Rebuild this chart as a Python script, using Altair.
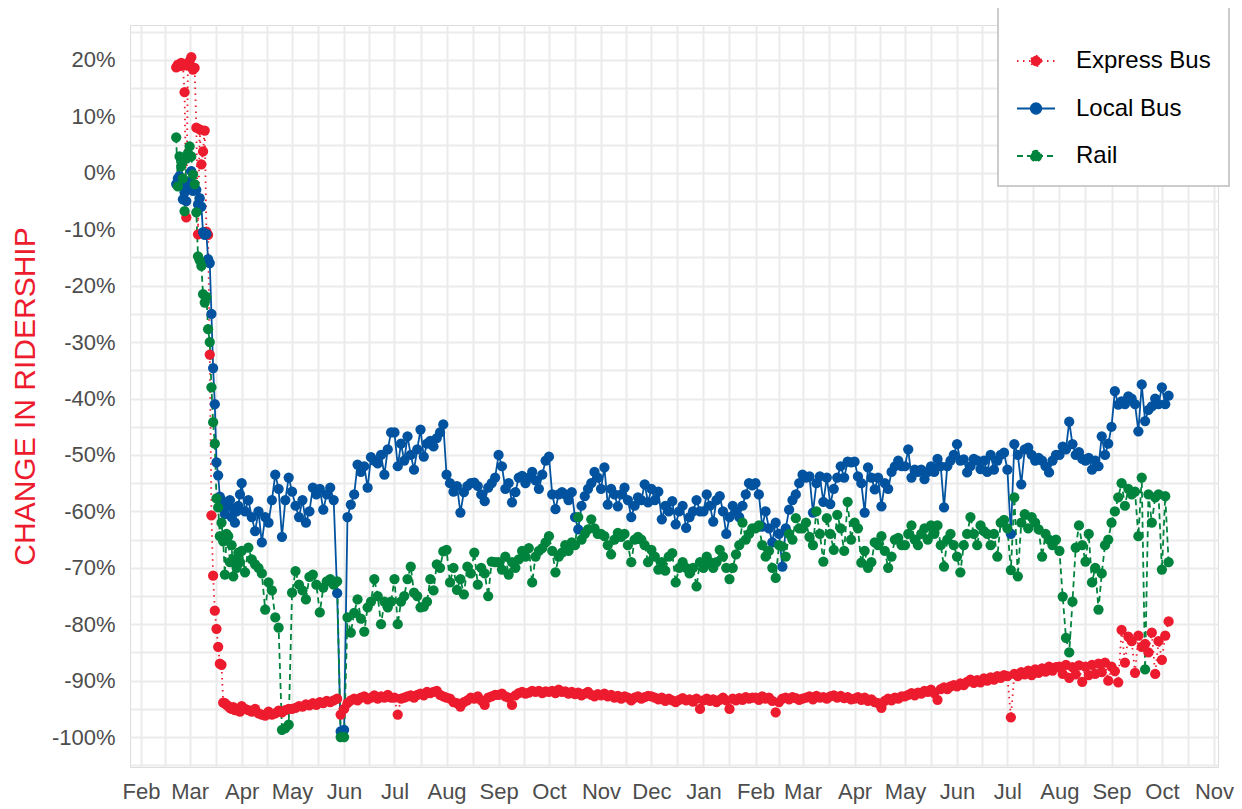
import altair as alt
import pandas as pd

SERIES = ["Express Bus", "Local Bus", "Rail"]
COLORS = ["#ED1B2E", "#0153A0", "#00843D"]
DASHES = [[1.5, 4.5], [1, 0], [6, 4]]

EARLY_START = "2020-02-22"      # daily values from this date
MONTH_FIRST = "2020-04-01"      # monthly blocks Apr 2020 .. Sep 2021
MONTH_LAST = "2021-09-01"
FINAL_START = "2021-10-01"      # every second day from this date

EXPRESS_EARLY = [18.7, 19.2, 18.9, 19.5, 19.0, 14.3, -7.9, 19.0, 19.8, 20.5, 18.3, 18.6, 8.0,
                 -10.9, 7.7, 1.5, 3.8, 7.5, -10.4, -11.0, -32.2, -60.7, -71.4, -77.6, -80.8,
                 -84.0, -87.0, -87.2, -93.9, -94.0, -94.3, -94.5, -94.8, -95.0, -94.7, -95.2,
                 -95.0, -95.3, -95.5]
EXPRESS_MONTHLY = [
    [-94.5, -95, -95.2, -95.5, -95, -95.8, -96, -96.2, -95.5, -96, -95.8, -95.3, -95.6, -95.2, -95],
    [-95, -94.8, -94.5, -94.6, -94.2, -94.4, -94, -94.3, -93.8, -94, -93.6, -93.8, -93.5, -93.2, -96],
    [-95, -94, -93.5, -93.2, -93.5, -93, -92.8, -93.3, -93, -92.6, -93.2, -92.8, -93, -92.5, -93],
    [-93, -96, -93.2, -93, -92.8, -92.6, -93, -92.5, -92.3, -92.6, -92, -92.2, -92, -91.8, -92.5, -92.8],
    [-93, -93.2, -93.8, -94, -94.6, -93.8, -93.5, -93, -93.2, -92.8, -93.5, -94.3, -93, -92.8, -92.5],
    [-92.5, -92.3, -92.8, -93, -94.3, -92.6, -92.2, -92, -92.3, -92.1, -91.8, -92, -91.8, -92.2, -91.9],
    [-92, -91.8, -92.2, -91.6, -92, -91.9, -92.3, -92, -92.4, -92.1, -92.6, -92.3, -92, -92.5, -92.8, -92.4],
    [-92.6, -92.3, -92.8, -92.5, -93, -92.7, -93.2, -92.8, -93, -93.5, -93, -92.8, -93.2, -92.9, -92.7],
    [-92.8, -93, -93.3, -93, -93.6, -93.2, -93.5, -93.8, -93.4, -93.1, -93.5, -93.3, -93.7, -93.2, -95],
    [-93.5, -93.2, -93.6, -93.3, -93.8, -93.4, -93, -93.5, -95, -93.2, -93.5, -93.1, -93.4, -92.9, -93.2, -93],
    [-93, -93.4, -92.8, -93.2, -93, -93.6, -95.6, -93.8, -93.2, -93, -93.3, -92.9, -93.1, -93.4],
    [-93.2, -93, -92.8, -93.3, -92.7, -93, -92.9, -93.2, -92.8, -92.6, -93, -92.7, -93.1, -92.9, -93.3],
    [-93.2, -92.9, -93.4, -93, -93.6, -93.3, -93.8, -94, -94.8, -93.6, -93.2, -93.5, -93, -93.2, -92.8],
    [-92.8, -92.5, -92.2, -92.6, -92.1, -92.3, -91.8, -92, -91.6, -92.2, -93.4, -91.5, -91.2, -91.5, -91, -90.8],
    [-91, -90.5, -90.8, -90.2, -89.8, -90.4, -89.9, -90.3, -89.6, -90, -89.4, -89.8, -89.2, -89.5, -89],
    [-89.2, -96.5, -88.8, -89.2, -88.5, -88.9, -88.2, -89, -88, -88.6, -87.8, -88.4, -87.5, -88.2, -87.6],
    [-87.5, -88.8, -87.2, -89.5, -87.6, -88.9, -87.3, -90.2, -87.5, -89, -87.2, -88.8, -87, -88.5, -86.8, -90],
    [-87.5, -88.3, -90.3, -81, -86.8, -82.2, -83, -88.6, -82, -84, -83.5, -85, -81.5, -88.8, -83],
]
EXPRESS_FINAL = [-86.3, -82, -79.5]

LOCAL_EARLY = [-2.0, -1.0, -0.6, -2.2, -4.7, -3.5, -5.0, -2.5, -1.5, 0.3, -3.2, -2.8, -3.0,
               -5.6, -4.5, -6.0, -10.5, -11.0, -10.8, -15.3, -16.0, -25.0, -34.6, -41.0, -51.3,
               -53.6, -57.4, -58.0, -59.5, -60.5, -58.5, -59.0, -58.0, -61.0, -59.5, -62.0,
               -60.0, -59.0, -57.0]
LOCAL_MONTHLY = [
    [-55, -60, -58, -61, -63.5, -60, -65.5, -61, -62, -58, -53.5, -56, -64.5, -58, -54],
    [-56.5, -59, -61, -58, -62, -60, -55.8, -57, -56, -59.7, -57, -55.8, -58, -74.5, -99],
    [-98.7, -61, -58.8, -57, -51.7, -53, -52, -55.8, -50.4, -51, -51.5, -50, -53.5, -49, -46],
    [-46, -52, -48, -51, -46.7, -50, -52.6, -49, -45.5, -50.3, -48, -47.5, -48.5, -47, -46, -44.6],
    [-53.5, -55, -56.5, -55.5, -60.2, -56.6, -55.5, -55, -54.9, -55.5, -57, -58.2, -55.8, -55, -54],
    [-50, -52, -56, -55, -58.4, -56.6, -54, -53.7, -55, -54, -53, -54.5, -56, -53.5, -51],
    [-50.3, -57, -59.6, -57, -56.6, -57, -58, -56.6, -61, -63.2, -59, -57.3, -56, -55, -53, -54],
    [-56, -52.2, -58.8, -56, -57, -59.1, -57, -55.8, -58, -61, -59, -57.5, -58, -55.2, -58.4],
    [-56, -58, -56.5, -61.4, -59, -60, -58.2, -62.3, -60, -59, -62.9, -61, -60, -58, -60],
    [-60, -57, -59, -61.8, -58, -57.3, -60, -64, -61, -59, -60, -61, -59, -57, -55, -55.4],
    [-55, -57, -62.7, -60, -63, -65.5, -62, -64, -69.8, -63, -59.7, -58, -57, -55],
    [-53.5, -54, -53.8, -60.2, -55, -53.8, -58.3, -54, -58.7, -56, -54, -52, -54, -51.2, -51.3],
    [-51.2, -53.8, -55, -60.2, -52.2, -54, -56.1, -54, -59.1, -55, -56, -53, -52, -51, -52],
    [-52, -49, -54, -52.6, -53, -52.6, -54.3, -53, -52, -53, -50.7, -52, -59.3, -52, -51, -50],
    [-48.1, -51, -50.8, -53.1, -52, -50.7, -51, -52.5, -51, -53, -50, -52.6, -51, -50, -49.6],
    [-52.6, -64, -48.1, -50, -55.2, -49, -48.7, -50, -51, -50.5, -51, -52, -53.1, -51, -50],
    [-50, -48.5, -49, -44.1, -48.1, -50, -49.5, -50.7, -51, -50.5, -52.6, -51, -52, -46.7, -50, -48],
    [-45, -38.7, -41.1, -40.5, -41, -39.6, -40, -41, -45.8, -37.5, -44, -42, -41.4, -40, -41],
]
LOCAL_FINAL = [-38, -41, -39.5]

RAIL_EARLY = [6.3, -2.4, 2.9, 1.2, -1.0, -6.8, 2.5, 3.5, 4.7, 2.9, -0.3, -2.0, -7.0, -14.8,
              -15.5, -16.5, -21.5, -23.0, -22.0, -27.7, -30.0, -38.0, -44.2, -48.0, -57.7,
              -59.3, -64.4, -62.0, -65.3, -71.2, -64.0, -64.4, -69.0, -66.0, -71.5, -68.5,
              -70.0, -67.3, -69.0]
RAIL_MONTHLY = [
    [-67, -70.8, -66.4, -68.5, -69.4, -70, -71, -77.4, -72.6, -74, -78.8, -80.6, -98.7, -98.4, -97.8],
    [-74.4, -70.6, -73, -74, -75.6, -71.6, -71.2, -73, -77.9, -73.5, -72.4, -72, -73, -72.4, -100],
    [-100, -78.8, -81.5, -78, -75.6, -79, -81.3, -77, -76, -72, -75, -80, -76, -77, -76],
    [-72, -80, -76, -75, -72, -69.8, -74.4, -75, -77, -76.9, -76, -72, -74, -69.4, -70, -67.1],
    [-66.8, -72.6, -70, -73.9, -72, -74.7, -69.8, -71, -67.3, -73, -70, -71, -75, -68.9, -69],
    [-69, -70.3, -68, -71.2, -69, -70, -68.5, -67, -68, -66.5, -72.6, -68, -67, -66.5, -65.5],
    [-64.4, -67, -70.8, -68, -67.3, -66, -67, -65.5, -66, -61, -65, -64, -63.2, -61.4, -63, -64],
    [-64, -64.4, -66, -67.6, -65, -63.8, -64.5, -64, -66, -69, -65, -64.5, -65, -66, -69],
    [-66.8, -68, -70.3, -69, -70.5, -68, -67.4, -72.6, -70, -69, -70, -71, -70, -73.3, -69],
    [-70, -68, -69, -70, -69, -66.8, -68, -70, -72, -70, -67.6, -66, -62, -65, -64, -63],
    [-63, -62.5, -66, -68, -67, -70, -71.8, -66, -66.2, -68, -64, -65, -61.2, -63],
    [-63, -62, -64.5, -66, -60, -64, -68.9, -61.2, -64, -66.8, -60.6, -63, -67, -58.3, -65],
    [-62, -63, -69.1, -67, -70, -69, -65.5, -66, -64.4, -67, -70, -68, -65, -64.7, -66],
    [-66, -64, -62.5, -65, -66, -64, -63, -65, -62.5, -64, -62.5, -66, -69.8, -65, -64, -66],
    [-68, -70.8, -66, -64, -61, -64, -66, -62.5, -63.5, -64, -66, -64, -68, -62, -61.5],
    [-63, -70.4, -57.5, -71.5, -62, -60.5, -63, -61, -62, -63.2, -68, -64, -65, -66, -65],
    [-67, -75.1, -82.4, -85, -76, -66.4, -62.5, -66, -68.9, -64, -72.6, -70, -77.4, -71, -66, -65],
    [-62, -60, -57.5, -55, -59, -56, -57, -56.5, -64.4, -54, -88, -57, -62, -57.5, -57],
]
RAIL_FINAL = [-70.3, -57.3, -69]

MONTH_STARTS = pd.date_range(MONTH_FIRST, MONTH_LAST, freq="MS")


def build(name, early, monthly, final):
    rows = []
    start = pd.Timestamp(EARLY_START)
    for i, v in enumerate(early):
        rows.append((start + pd.Timedelta(days=i), v))
    for ms, vals in zip(MONTH_STARTS, monthly):
        nd = ms.days_in_month
        for i, v in enumerate(vals):
            rows.append((ms + pd.Timedelta(days=nd * i / len(vals)), v))
    fstart = pd.Timestamp(FINAL_START)
    for i, v in enumerate(final):
        rows.append((fstart + pd.Timedelta(days=2 * i), v))
    return [{"mode": name, "date": d.strftime("%Y-%m-%dT%H:%M:%S"), "value": v} for d, v in rows]


records = (build(SERIES[0], EXPRESS_EARLY, EXPRESS_MONTHLY, EXPRESS_FINAL)
           + build(SERIES[1], LOCAL_EARLY, LOCAL_MONTHLY, LOCAL_FINAL)
           + build(SERIES[2], RAIL_EARLY, RAIL_MONTHLY, RAIL_FINAL))
df = pd.DataFrame(records)


def dt(ts):
    return alt.DateTime(year=int(ts.year), month=int(ts.month), date=int(ts.day),
                        hours=int(ts.hour), minutes=int(ts.minute))


months = pd.date_range("2020-02-01", "2021-11-01", freq="MS")
x_vals = []
for i, m in enumerate(months):
    x_vals.append(dt(m))
    if i < len(months) - 1:
        x_vals.append(dt(m + (months[i + 1] - m) / 2))

FONT = "Liberation Sans"
GRID = "#EBEBEB"
LEGEND_PATH = ("M-1,0L1,0M0.27,0A0.27,0.27,0,1,1,-0.27,0"
               "A0.27,0.27,0,1,1,0.27,0Z")

x_enc = alt.X(
    "date:T",
    scale=alt.Scale(domain=[alt.DateTime(year=2020, month=1, date=25, hours=12),
                            alt.DateTime(year=2021, month=11, date=3, hours=10)]),
    axis=alt.Axis(values=x_vals, title=None, grid=True, domain=False, ticks=False,
                  labelExpr="date(datum.value) == 1 && hours(datum.value) == 0 ? timeFormat(datum.value, '%b') : ''",
                  labelPadding=14, labelFontSize=22, labelColor="#4D4D4D", labelFont=FONT,
                  labelAngle=0, labelOverlap=False, labelFlush=False,
                  gridColor=GRID, gridWidth=2),
)
y_enc = alt.Y(
    "value:Q",
    scale=alt.Scale(domain=[-105.3, 26.2], nice=False, zero=False),
    axis=alt.Axis(values=list(range(-105, 30, 5)),
                  labelExpr="datum.value % 10 == 0 ? datum.value + '%' : ''",
                  title="CHANGE IN RIDERSHIP", titleColor="#ED1B2E", titleFontSize=30,
                  titleFont=FONT, titleFontWeight="normal", titlePadding=11,
                  grid=True, domain=False, ticks=False, tickSize=0,
                  labelPadding=15, labelFontSize=22, labelColor="#4D4D4D", labelFont=FONT,
                  gridColor=GRID, gridWidth=2),
)

color_scale = alt.Scale(domain=SERIES, range=COLORS)
dash_scale = alt.Scale(domain=SERIES, range=DASHES)

leg = alt.Legend(title=" ", orient="none", legendX=868, legendY=-20,
                 symbolType=LEGEND_PATH, symbolSize=1444, symbolStrokeWidth=2,
                 symbolFillColor="#000000",
                 labelFontSize=24, labelFont=FONT, labelColor="#000000", labelOffset=20,
                 rowPadding=15.5, padding=18, titleFontSize=10, titlePadding=8,
                 fillColor="#FFFFFF", strokeColor="#CCCCCC")

lines = alt.Chart(df).mark_line(strokeWidth=1.8).encode(
    x=x_enc, y=y_enc,
    color=alt.Color("mode:N", scale=color_scale, legend=None),
    strokeDash=alt.StrokeDash("mode:N", scale=dash_scale, legend=None),
)
points = alt.Chart(df).mark_point(filled=True, size=105, strokeWidth=0, opacity=1).encode(
    x=x_enc, y=y_enc,
    color=alt.Color("mode:N", scale=color_scale, legend=None),
)
# empty layer that only carries the legend (dashed line + dot symbols)
legend_layer = alt.Chart(df).transform_filter("false").mark_line(strokeWidth=2).encode(
    x=x_enc, y=y_enc,
    stroke=alt.Stroke("mode:N", scale=color_scale, legend=leg, title=" "),
    fill=alt.Fill("mode:N", scale=color_scale, legend=leg, title=" "),
    strokeDash=alt.StrokeDash("mode:N", scale=dash_scale, legend=leg, title=" "),
)

chart = alt.layer(lines, points, legend_layer).resolve_scale(
    color="independent", strokeDash="independent", stroke="independent", fill="independent"
).resolve_legend(
    color="independent", strokeDash="independent", stroke="independent", fill="independent"
).properties(
    width=1088, height=742,
    autosize=alt.AutoSizeParams(type="none"),
    padding={"left": 122, "top": 17, "right": 16, "bottom": 42},
).configure_view(stroke=None).configure(background="#FFFFFF").configure_legend(strokeWidth=2)

chart.save("out.html", embed_options={"renderer": "svg", "actions": False})
